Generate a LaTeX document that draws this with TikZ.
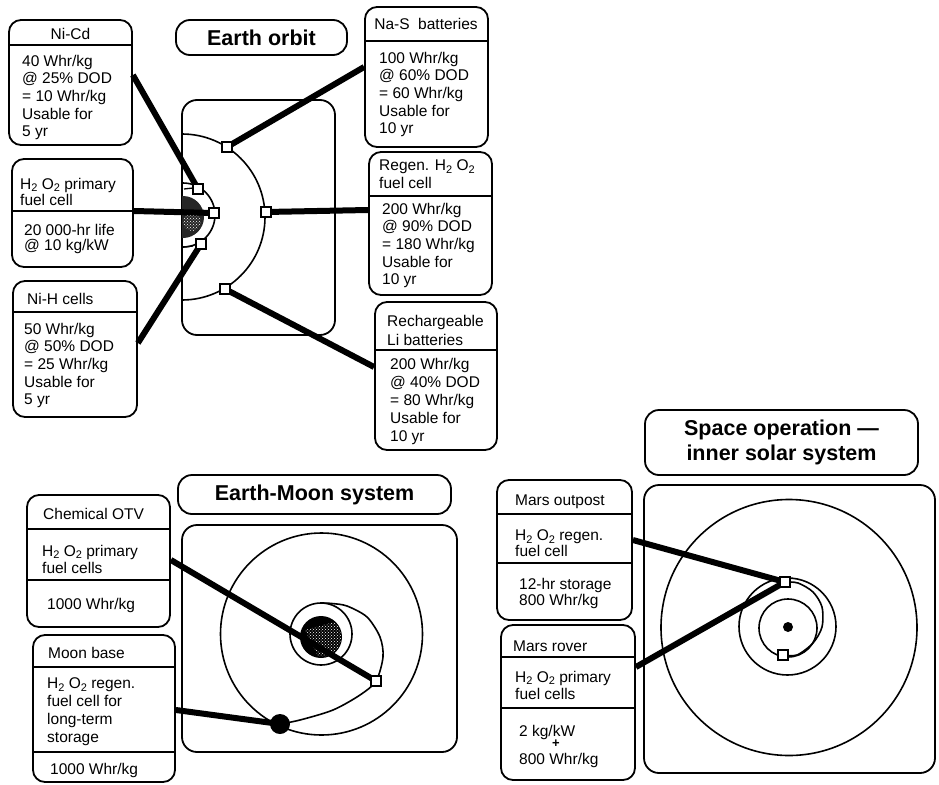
\documentclass[tikz,border=0pt]{standalone}
\usepackage{fontspec}
\setmainfont{Liberation Sans}
\usetikzlibrary{patterns}
\newcommand\subtwo{\raisebox{-2.5pt}{\fontsize{11}{11}\selectfont 2}}
\newcommand\bodyf[1]{\fontsize{15.5}{#1}\selectfont}
\begin{document}
\begin{tikzpicture}[x=1pt,y=-1pt,
  panel/.style={draw, line width=1.8pt, rounded corners=15pt, inner sep=0pt},
  box/.style={draw, line width=1.8pt, rounded corners=12pt, fill=white, inner sep=0pt},
  ttl/.style={draw, line width=1.8pt, rounded corners=14pt, inner sep=0pt, font=\fontsize{21.5}{25}\selectfont\bfseries},
  sepl/.style={line width=1.6pt},
  orb/.style={line width=1.6pt},
  conn/.style={line width=6pt},
  sq/.style={draw, line width=1.5pt, fill=white, minimum size=10pt, inner sep=0pt},
  tx/.style={anchor=north west, inner sep=0pt, align=left, font=\bodyf{17.7}},
  hd/.style={inner sep=0pt, font=\bodyf{17.7}}]
\useasboundingbox (0,0) rectangle (939,784);

% ---------- titles ----------
\node[ttl, minimum width=171pt, minimum height=35pt] (eot) at (261.5,37.5) {Earth orbit};
\node[ttl, minimum width=273pt, minimum height=39pt] (emt) at (314.5,494.5) {Earth-Moon system};
\node[ttl, minimum width=273pt, minimum height=65pt, align=center] (spt) at (781.5,442.5) {Space operation —\\inner solar system};

% ---------- panels ----------
\node[panel, minimum width=153pt, minimum height=235pt] (eop) at (258.5,217.5) {};
\node[panel, minimum width=275pt, minimum height=227pt] (emp) at (319.5,638.5) {};
\node[panel, minimum width=291pt, minimum height=288pt] (spp) at (789.5,629) {};

% ---------- Earth orbit drawing ----------
\begin{scope}
  \clip (182,100) rectangle (335,335);
  \draw[orb] (182,217) circle (83pt);
  \draw[orb] (183,215) circle (32pt);
  \fill[black!85] (183,217) circle (21pt);
  \fill[pattern=crosshatch dots, pattern color=white] (192,222) circle (9pt);
\end{scope}
\draw[line width=1.3pt] (184,189) -- (193,188);
\draw[line width=1.3pt] (184,247) -- (193,246);

% ---------- Earth-Moon drawing ----------
\draw[orb] (321.5,634) circle (101pt);
\draw[orb] (321,634) circle (31pt);
\fill[black] (321,637) circle (21pt);
\begin{scope}
  \clip (321,637) circle (20pt);
  \fill[pattern=crosshatch dots, pattern color=white] (305,630) -- (342,620) -- (342,656) -- (318,656) -- cycle;
\end{scope}
\draw[orb] plot[smooth] coordinates {(280,724) (300,720) (333,710) (360,695) (376,681) (383,657) (380,637) (367,617) (347,606) (332,603.5) (322,603)};

% ---------- Space operation drawing ----------
\draw[orb] (789,627.5) circle (128pt);
\draw[orb] (787.5,626.5) circle (48.5pt);
\draw[orb] (788,628) circle (29pt);
\fill[black] (788,627) circle (5pt);
\draw[orb] plot[smooth] coordinates {(783,655) (797,655) (813,643) (822,627) (822,607) (813,592) (798,583) (785,582)};

% ---------- boxes ----------
\node[box, minimum width=123pt, minimum height=125pt] (nicd) at (70.5,82.5) {};
\node[box, minimum width=121pt, minimum height=108pt] (h2p) at (72.5,213) {};
\node[box, minimum width=124pt, minimum height=136pt] (nih) at (75,349) {};
\node[box, minimum width=123pt, minimum height=140pt] (nas) at (426.5,77) {};
\node[box, minimum width=123pt, minimum height=143pt] (regen) at (430.5,223.5) {};
\node[box, minimum width=122pt, minimum height=148pt] (li) at (436,376) {};
\node[box, minimum width=143pt, minimum height=132pt] (otv) at (98.5,561) {};
\node[box, minimum width=142pt, minimum height=147pt] (moonb) at (104,708.5) {};
\node[box, minimum width=135pt, minimum height=140pt] (outp) at (564.5,550) {};
\node[box, minimum width=134pt, minimum height=155pt] (rover) at (568,702.5) {};

% separators
\draw[sepl] (9,45) -- (132,45);
\draw[sepl] (12,211) -- (133,211);
\draw[sepl] (13,312) -- (137,312);
\draw[sepl] (365,41) -- (488,41);
\draw[sepl] (369,196) -- (492,196);
\draw[sepl] (375,350) -- (497,350);
\draw[sepl] (27,529) -- (170,529);
\draw[sepl] (27,580) -- (170,580);
\draw[sepl] (33,667) -- (175,667);
\draw[sepl] (33,752) -- (175,752);
\draw[sepl] (497,514) -- (632,514);
\draw[sepl] (497,563) -- (632,563);
\draw[sepl] (501,657) -- (635,657);
\draw[sepl] (501,708) -- (635,708);

% ---------- marker positions ----------
\coordinate (eo1) at (198,189);
\coordinate (eo2) at (214,213);
\coordinate (eo3) at (201,244);
\coordinate (eo4) at (227,147);
\coordinate (eo5) at (266,212);
\coordinate (eo6) at (225,289);
\coordinate (em1) at (376,681);
\coordinate (sp1) at (785,582);
\coordinate (sp2) at (783,655);
\coordinate (moonc) at (280,724);

% ---------- connectors ----------
\draw[conn] ([yshift=7.5pt]nicd.east) -- (eo1);
\draw[conn] ([yshift=2pt]h2p.east) -- (eo2);
\draw[conn] ([yshift=6pt]nih.east) -- (eo3);
\draw[conn] ([yshift=10pt]nas.west) -- (eo4);
\draw[conn] ([yshift=13.5pt]regen.west) -- (eo5);
\draw[conn] ([yshift=9pt]li.west) -- (eo6);
\draw[conn] ([yshift=1pt]otv.east) -- (em1);
\draw[conn] ([yshift=-1.5pt]moonb.east) -- (moonc);
\draw[conn] ([yshift=10pt]outp.east) -- (sp1);
\draw[conn] ([yshift=35.5pt]rover.east) -- (sp1);

% ---------- markers on top ----------
\node[sq] (m1) at (eo1) {};
\node[sq] (m2) at (eo2) {};
\node[sq] (m3) at (eo3) {};
\node[sq] (m4) at (eo4) {};
\node[sq] (m5) at (eo5) {};
\node[sq] (m6) at (eo6) {};
\node[sq] (m7) at (em1) {};
\node[circle, fill=black, minimum size=20pt, inner sep=0pt] (moon) at (moonc) {};
\node[sq] (m8) at (sp1) {};
\node[sq] (m9) at (sp2) {};

% ---------- texts ----------
\node[hd, anchor=base] (t1a) at (70.5,40) {Ni-Cd};
\node[tx] (t1b) at (22,54.7) {40 Whr/kg\\@ 25\% DOD\\= 10 Whr/kg\\Usable for\\5 yr};

\node[tx, font=\bodyf{16}] (t2a) at (20,177.7) {H\subtwo{} O\subtwo{} primary\\fuel cell};
\node[tx, font=\bodyf{15.5}] (t2b) at (24,223.7) {20 000-hr life\\@ 10 kg/kW};

\node[hd, anchor=base west] (t3a) at (27,304) {Ni-H cells};
\node[tx] (t3b) at (24,322.7) {50 Whr/kg\\@ 50\% DOD\\= 25 Whr/kg\\Usable for\\5 yr};

\node[hd, anchor=base] (t4a) at (426,30) {Na-S\ \ batteries};
\node[tx] (t4b) at (379,51.7) {100 Whr/kg\\@ 60\% DOD\\= 60 Whr/kg\\Usable for\\10 yr};

\node[tx, font=\bodyf{18}] (t5a) at (379,159.7) {Regen. H\subtwo{} O\subtwo\\fuel cell};
\node[tx] (t5b) at (382,202.7) {200 Whr/kg\\@ 90\% DOD\\= 180 Whr/kg\\Usable for\\10 yr};

\node[tx, font=\bodyf{19}] (t6a) at (387,314.7) {Rechargeable\\Li batteries};
\node[tx, font=\bodyf{18}] (t6b) at (390,357.7) {200 Whr/kg\\@ 40\% DOD\\= 80 Whr/kg\\Usable for\\10 yr};

\node[hd, anchor=base west] (t7a) at (43,519) {Chemical OTV};
\node[tx, font=\bodyf{17}] (t7b) at (42,544.7) {H\subtwo{} O\subtwo{} primary\\fuel cells};
\node[hd, anchor=base west] (t7c) at (47,609) {1000 Whr/kg};

\node[hd, anchor=base west] (t8a) at (48,658) {Moon base};
\node[tx, font=\bodyf{18}] (t8b) at (47,677.7) {H\subtwo{} O\subtwo{} regen.\\fuel cell for\\long-term\\storage};
\node[hd, anchor=base west] (t8c) at (50,774) {1000 Whr/kg};

\node[hd, anchor=base west] (t9a) at (515,505) {Mars outpost};
\node[tx, font=\bodyf{13.7}] (t9b) at (515,529.7) {H\subtwo{} O\subtwo{} regen.\\fuel cell};
\node[tx, font=\bodyf{16.7}] (t9c) at (519,577.7) {12-hr storage\\800 Whr/kg};

\node[hd, anchor=base west] (t10a) at (513,651) {Mars rover};
\node[tx, font=\bodyf{17.3}] (t10b) at (515,670.7) {H\subtwo{} O\subtwo{} primary\\fuel cells};
\node[hd, anchor=base west] (t10c) at (519,736) {2 kg/kW};
\node[inner sep=0pt, font=\fontsize{13}{13}\selectfont\bfseries] (t10d) at (556,744) {+};
\node[hd, anchor=base west] (t10e) at (519,764) {800 Whr/kg};
\end{tikzpicture}
\end{document}
